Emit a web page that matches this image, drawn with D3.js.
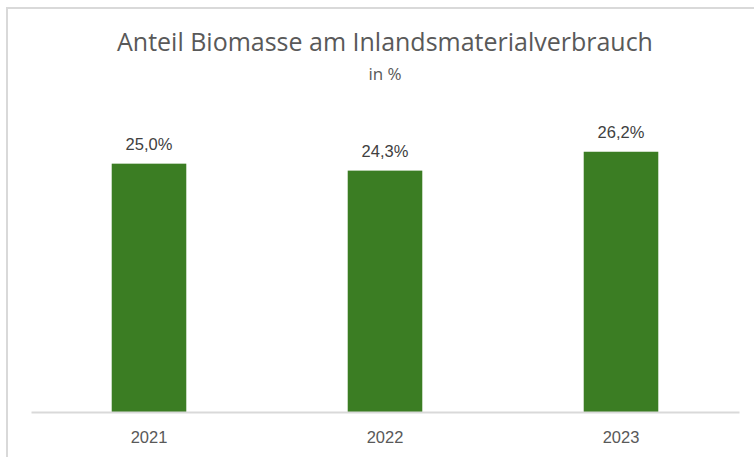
<!DOCTYPE html>
<html>
<head>
<meta charset="utf-8">
<script src="https://cdn.jsdelivr.net/npm/d3@7"></script>
<style>
  body { margin: 0; background: #ffffff; }
  svg { display: block; }
</style>
</head>
<body>
<div id="plot"></div>
<script>
var width = 754;
var height = 457;

// chart data
var years = ['2021', '2022', '2023'];
var shares = [25.0, 24.3, 26.2];
var title = 'Anteil Biomasse am Inlandsmaterialverbrauch';
var subtitle = 'in %';

var canvas = d3.select('#plot')
    .append('svg')
    .attr('width', width)
    .attr('height', height);

// outer frame (only top + left visible)
canvas.append('rect')
    .attr('x', 7)
    .attr('y', 8)
    .attr('width', width + 20)
    .attr('height', height + 20)
    .attr('fill', '#ffffff')
    .attr('stroke', '#d9d9d9')
    .attr('stroke-width', 2);

var plot = { left: 31, right: 739, top: 114, bottom: 412 };

var x = d3.scaleBand()
    .domain(years)
    .range([plot.left, plot.right])
    .paddingInner(0.684)
    .paddingOuter(0.342);

var y = d3.scaleLinear()
    .domain([0, 30])
    .range([plot.bottom, plot.top]);

// title
var titleText = canvas.append('text')
    .attr('x', 385)
    .attr('y', 51)
    .attr('text-anchor', 'middle')
    .attr('font-family', 'Open Sans, sans-serif')
    .attr('font-size', 26)
    .attr('fill', '#595959')
    .text(title);
// fit font size to the reference width
var tw = titleText.node().getComputedTextLength();
titleText.attr('font-size', 26 * 536 / tw);

canvas.append('text')
    .attr('x', 385)
    .attr('y', 80)
    .attr('text-anchor', 'middle')
    .attr('font-family', 'Open Sans, sans-serif')
    .attr('font-size', 17)
    .attr('fill', '#595959')
    .text(subtitle);

var data = years.map(function(d, i) { return { year: d, value: shares[i] }; });

// bars
canvas.selectAll('rect.bar')
    .data(data)
    .enter()
    .append('rect')
    .attr('class', 'bar')
    .attr('x', function(d) { return x(d.year); })
    .attr('y', function(d) { return y(d.value); })
    .attr('width', x.bandwidth())
    .attr('height', function(d) { return y(0) - y(d.value); })
    .attr('fill', '#3b7d23');

// value labels
var fmt = function(v) { return v.toFixed(1).replace('.', ',') + '%'; };
canvas.selectAll('text.value')
    .data(data)
    .enter()
    .append('text')
    .attr('class', 'value')
    .attr('x', function(d) { return x(d.year) + x.bandwidth() / 2; })
    .attr('y', function(d) { return y(d.value) - 14; })
    .attr('text-anchor', 'middle')
    .attr('font-family', 'Liberation Sans, Arial, sans-serif')
    .attr('font-size', 16.5)
    .attr('fill', '#404040')
    .text(function(d) { return fmt(d.value); });

// x axis
var xAxis = canvas.append('g')
    .attr('transform', 'translate(0,' + plot.bottom + ')')
    .call(d3.axisBottom(x).tickSize(0).tickPadding(19));
xAxis.select('.domain')
    .attr('stroke', '#d9d9d9')
    .attr('stroke-width', 2);
xAxis.selectAll('text')
    .attr('font-family', 'Liberation Sans, Arial, sans-serif')
    .attr('font-size', 16.5)
    .attr('fill', '#595959')
    .attr('dy', '0.71em');
</script>
</body>
</html>
